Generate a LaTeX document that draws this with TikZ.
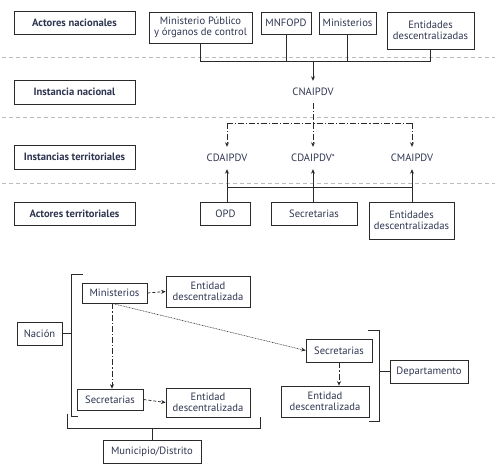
\documentclass[tikz,border=0pt]{standalone}
\usepackage{fontspec}
\setmainfont{PT Sans}
\usetikzlibrary{arrows.meta}
\definecolor{txt}{HTML}{2E3550}
\definecolor{ln}{HTML}{2A2A2A}
\definecolor{sep}{HTML}{BBBBBB}
\newcommand{\fs}{\fontsize{10.6}{11.4}\selectfont}
\tikzset{
  box/.style={draw=ln,line width=0.75pt,inner sep=0pt,align=center,text=txt,font=\fs},
  lab/.style={box,font=\fs\bfseries},
  plain/.style={inner sep=0pt,minimum height=22pt,text=txt,font=\fs},
  conn/.style={draw=ln,line width=0.75pt},
  tip/.style={-{Stealth[length=4.5pt,width=4pt]}},
  dd/.style={conn,dash pattern=on 6pt off 2pt on 1.2pt off 2pt},
  dsh/.style={conn,dash pattern=on 3pt off 2pt},
  dot/.style={draw=ln,line width=0.6pt,dash pattern=on 0.8pt off 0.8pt},
  sepline/.style={draw=sep,line width=0.8pt,dash pattern=on 4pt off 3pt}
}
\begin{document}
\begin{tikzpicture}[x=1pt,y=-1pt]
\useasboundingbox (0,0) rectangle (495,471);
% separators
\draw[sepline] (2,57) -- (495,57);
\draw[sepline] (2,117) -- (495,117);
\draw[sepline] (2,183) -- (495,183);
% row labels
\node[lab,minimum width=121pt,minimum height=23pt] (an) at (74.5,22.5) {Actores nacionales};
\node[lab,minimum width=121pt,minimum height=24pt] (in) at (74.5,92) {Instancia nacional};
\node[lab,minimum width=121pt,minimum height=24pt] (it) at (74.5,157) {Instancias territoriales};
\node[lab,minimum width=121pt,minimum height=23pt] (at) at (74.5,213.5) {Actores territoriales};
% national actors
\node[box,minimum width=103pt,minimum height=31pt] (mp) at (200.5,27.5) {Ministerio Público\\y órganos de control};
\node[box,minimum width=50pt,minimum height=22pt] (mn) at (286,23) {MNFOPD};
\node[box,minimum width=57pt,minimum height=22pt] (mi) at (347.5,23) {Ministerios};
\node[box,minimum width=87pt,minimum height=37pt] (ed) at (430.5,30.5) {Entidades\\descentralizadas};
% instances
\node[plain] (cn) at (313,92) {CNAIPDV};
\node[plain] (cd1) at (227,158) {CDAIPDV};
\node[plain] (cd2) at (313,158) {CDAIPDV\raisebox{0.2ex}{\fontsize{8.5}{8.5}\selectfont*}};
\node[plain] (cm) at (412,158) {CMAIPDV};
% territorial actors
\node[box,minimum width=50pt,minimum height=23pt] (opd) at (225.5,213.5) {OPD};
\node[box,minimum width=86pt,minimum height=23pt] (sec) at (314,213.5) {Secretarias};
\node[box,minimum width=85pt,minimum height=37pt] (ed2) at (411.5,220.5) {Entidades\\descentralizadas};
% top connectors
\coordinate (j) at (313,61);
\draw[conn] (mp.south) -- (mp.south |- j) -- (ed.south |- j) -- (ed.south);
\draw[conn] (mn.south) -- (mn.south |- j);
\draw[conn] (mi.south) -- (mi.south |- j);
\draw[conn,tip] (j) -- (cn.north);
% dash-dot to territorial instances
\coordinate (h) at (313,123);
\draw[dd] (cn.south) -- (h);
\draw[dd] (cd1.north |- h) -- (cm.north |- h);
\draw[dd,tip] (cd1.north |- h) -- (cd1.north);
\draw[dd,tip] (h) -- (cd2.north);
\draw[dd,tip] (cm.north |- h) -- (cm.north);
% bottom connectors
\coordinate (b) at (313,187);
\draw[conn] (cd1.south |- b) -- (cm.south |- b);
\draw[conn,tip] (cd1.south |- opd.north) -- (cd1.south);
\draw[conn,tip] (cd2.south |- sec.north) -- (cd2.south);
\draw[conn,tip] (cm.south |- ed2.north) -- (cm.south);
% lower diagram
\node[box,minimum width=45pt,minimum height=23pt] (nac) at (39.5,333.5) {Nación};
\node[box,minimum width=65pt,minimum height=20pt] (min) at (114.5,293) {Ministerios};
\node[box,minimum width=84pt,minimum height=31pt] (e1) at (208,291.5) {Entidad\\descentralizada};
\node[box,minimum width=66pt,minimum height=21pt] (sl) at (110,399.5) {Secretarias};
\node[box,minimum width=84pt,minimum height=29pt] (e2) at (208,402.5) {Entidad\\descentralizada};
\node[box,minimum width=98pt,minimum height=23pt] (mun) at (152,451.5) {Municipio/Distrito};
\node[box,minimum width=66pt,minimum height=23pt] (sr) at (339,350.5) {Secretarias};
\node[box,minimum width=88pt,minimum height=31pt] (e3) at (325,401.5) {Entidad\\descentralizada};
\node[box,minimum width=78pt,minimum height=23pt] (dep) at (429,371.5) {Departamento};
% brackets
\coordinate (bn) at (71,333.5);
\draw[conn] (83,274) -- (71,274) -- (71,416) -- (78,416);
\draw[conn] (nac.east) -- (bn);
\coordinate (bm) at (152,428);
\draw[conn] (67,414) -- (67,428) -- (260,428) -- (260,417);
\draw[conn] (mun.north) -- (bm);
\coordinate (bd) at (379,371.5);
\draw[conn] (368,330) -- (379,330) -- (379,421) -- (369,421);
\draw[conn] (bd) -- (dep.west);
% arrows
\draw[dsh,tip] (min.east) -- (e1.west);
\draw[dsh,tip] (sl.east) -- (e2.west);
\draw[dd,tip] ([xshift=-2.5pt]min.south) -- ([xshift=-2.5pt]min.south |- sl.north);
\draw[dot,tip] ([xshift=-2.5pt]min.south) -- (sr.west);
\draw[dd,tip] (sr.south) -- (sr.south |- e3.north);
\end{tikzpicture}
\end{document}
